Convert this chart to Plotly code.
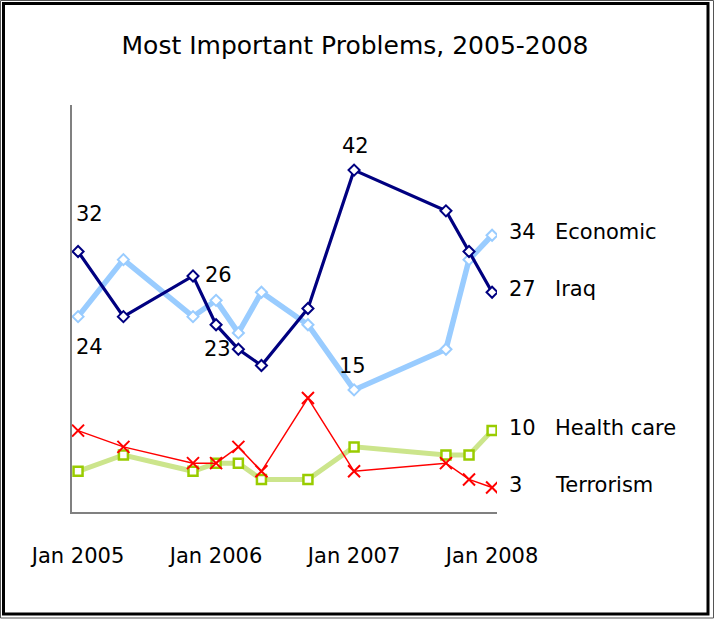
import plotly.graph_objects as go

# ---- data ----
dates = ["2005-01-01", "2005-05-01", "2005-11-01", "2006-01-01", "2006-03-01",
         "2006-05-01", "2006-09-01", "2007-01-01", "2007-09-01", "2007-11-01",
         "2008-01-01"]
iraq = [32, 24, 29, 23, 20, 18, 25, 42, 37, 32, 27]
economic = [24, 31, 24, 26, 22, 27, 23, 15, 20, 31, 34]
health_care = [5, 7, 5, 6, 6, 4, 4, 8, 7, 7, 10]
terrorism = [10, 8, 6, 6, 8, 5, 14, 5, 6, 4, 3]

tick_vals = ["2005-01-01", "2006-01-01", "2007-01-01", "2008-01-01"]
tick_text = ["Jan 2005", "Jan 2006", "Jan 2007", "Jan 2008"]

title_text = "Most Important Problems, 2005-2008"

FONT = "DejaVu Sans"

fig = go.Figure()

fig.add_trace(go.Scatter(
    x=dates, y=health_care, mode="lines+markers", name="Health care",
    line=dict(color="#CCE58C", width=5),
    marker=dict(symbol="square", size=9, color="white",
                line=dict(color="#99CC00", width=2.5)),
))
fig.add_trace(go.Scatter(
    x=dates, y=economic, mode="lines+markers", name="Economic",
    line=dict(color="#99CCFF", width=5.5),
    marker=dict(symbol="diamond", size=8.5, color="white",
                line=dict(color="#99CCFF", width=2)),
))
fig.add_trace(go.Scatter(
    x=dates, y=terrorism, mode="lines+markers", name="Terrorism",
    line=dict(color="#FF0000", width=1.5),
    marker=dict(symbol="x-thin-open", size=12,
                line=dict(color="#FF0000", width=2)),
))
fig.add_trace(go.Scatter(
    x=dates, y=iraq, mode="lines+markers", name="Iraq",
    line=dict(color="#000080", width=3.2),
    marker=dict(symbol="diamond", size=8.5, color="white",
                line=dict(color="#000080", width=2)),
))

annotations = []

def lab(xi, yi, text, xs, ys, xanchor="center"):
    annotations.append(dict(x=xi, y=yi, text=text, showarrow=False,
                            xshift=xs, yshift=ys, xanchor=xanchor,
                            font=dict(family=FONT, size=21, color="black")))

# data labels
lab(dates[0], iraq[0], str(iraq[0]), 11, 38)
lab(dates[0], economic[0], str(economic[0]), 11, -30)
lab(dates[3], economic[3], str(economic[3]), 2, 25)
lab(dates[3], iraq[3], str(iraq[3]), 1, -24)
lab(dates[7], iraq[7], str(iraq[7]), 1, 24)
lab(dates[7], economic[7], str(economic[7]), -2, 24)

# end labels
ends = [(economic, "Economic"), (iraq, "Iraq"),
        (health_care, "Health care"), (terrorism, "Terrorism")]
for series, name in ends:
    lab(dates[-1], series[-1], str(series[-1]), 15, 3, xanchor="left")
    lab(dates[-1], series[-1], name, 61, 3, xanchor="left")

# border shapes (pixel -> paper conversion)
PL, PR, PT, PB = 72, 497, 105, 512
def px(x):
    return (x - PL) / (PR - PL)
def py(y):
    return (PB - y) / (PB - PT)

shapes = [
    dict(type="rect", xref="paper", yref="paper",
         x0=px(0.5), x1=px(713.5), y0=py(618), y1=py(0.5),
         line=dict(color="#555555", width=1)),
    dict(type="rect", xref="paper", yref="paper",
         x0=px(3.5), x1=px(708), y0=py(614), y1=py(3.5),
         line=dict(color="black", width=3)),
]

fig.update_layout(
    width=714, height=619,
    margin=dict(l=PL, r=714 - PR, t=PT, b=619 - PB),
    paper_bgcolor="white", plot_bgcolor="white",
    showlegend=False,
    title=dict(text=title_text, x=355 / 714, xanchor="center",
               y=1 - 45 / 619, yanchor="middle",
               font=dict(family=FONT, size=25, color="black")),
    annotations=annotations,
    shapes=shapes,
)

fig.update_xaxes(
    type="date", range=["2004-12-16", "2008-01-14"],
    tickvals=tick_vals, ticktext=tick_text,
    ticks="outside", ticklen=24, tickcolor="rgba(0,0,0,0)",
    tickfont=dict(family=FONT, size=21, color="black"),
    showgrid=False, zeroline=False,
    showline=True, linecolor="#808080", linewidth=2,
)
fig.update_yaxes(
    range=[0, 50], showticklabels=False, ticks="",
    showgrid=False, zeroline=False,
    showline=True, linecolor="#808080", linewidth=2,
)

fig.write_html("out.html")
